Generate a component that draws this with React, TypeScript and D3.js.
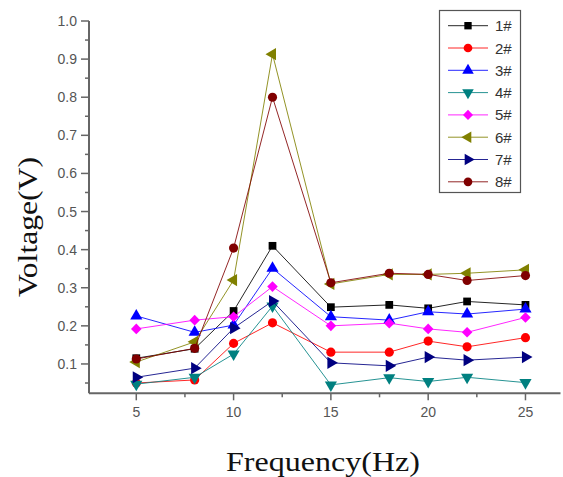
import React from "react";
import * as d3 from "d3";

const freqs = [5, 8, 10, 12, 15, 18, 20, 22, 25];
const seriesNames = ["1#", "2#", "3#", "4#", "5#", "6#", "7#", "8#"];
const s1 = [0.115, 0.14, 0.239, 0.41, 0.249, 0.255, 0.246, 0.264, 0.255];
const s2 = [0.05, 0.058, 0.154, 0.208, 0.131, 0.131, 0.16, 0.145, 0.169];
const s3 = [0.226, 0.183, 0.202, 0.351, 0.224, 0.215, 0.237, 0.231, 0.244];
const s4 = [0.047, 0.065, 0.126, 0.252, 0.045, 0.064, 0.054, 0.065, 0.051];
const s5 = [0.192, 0.215, 0.224, 0.303, 0.2, 0.207, 0.192, 0.183, 0.222];
const s6 = [0.105, 0.158, 0.32, 0.913, 0.31, 0.335, 0.335, 0.338, 0.347];
const s7 = [0.065, 0.089, 0.194, 0.265, 0.103, 0.095, 0.118, 0.11, 0.118];
const s8 = [0.113, 0.141, 0.404, 0.8, 0.313, 0.338, 0.335, 0.319, 0.332];
const seriesValues = [s1, s2, s3, s4, s5, s6, s7, s8];
const colors = ["#000000", "#ff0000", "#0000ff", "#008080", "#ff00ff", "#808000", "#000080", "#800000"];
const markers = ["square", "circle", "up", "down", "diamond", "left", "right", "circle"];
const xTicks = [5, 10, 15, 20, 25];
const xMinor = [7.5, 12.5, 17.5, 22.5];
const yTicks = [0.1, 0.2, 0.3, 0.4, 0.5, 0.6, 0.7, 0.8, 0.9, 1.0];
const yMinor = [0.05, 0.15, 0.25, 0.35, 0.45, 0.55, 0.65, 0.75, 0.85, 0.95];

const x = d3.scaleLinear().domain([2.57, 26.8]).range([89, 560.5]);
const y = d3.scaleLinear().domain([0.023, 1.0]).range([393.3, 21]);

function Marker({ kind, cx, cy, color, scale = 1 }: any) {
  let type: any = d3.symbolSquare;
  let size = 60;
  let rot = 0;
  if (kind === "circle") { type = d3.symbolCircle; size = 66; }
  else if (kind === "diamond") { type = d3.symbolSquare; size = 56; rot = 45; }
  else if (kind === "up") { type = d3.symbolTriangle; size = 64; }
  else if (kind === "down") { type = d3.symbolTriangle; size = 64; rot = 180; }
  else if (kind === "left") { type = d3.symbolTriangle; size = 64; rot = -90; }
  else if (kind === "right") { type = d3.symbolTriangle; size = 64; rot = 90; }
  const path = d3.symbol().type(type).size(size * scale * scale)() as string;
  return <path d={path} fill={color} transform={`translate(${cx},${cy}) rotate(${rot})`} />;
}

export default function App() {
  const line = d3.line<number>().x((_, i) => x(freqs[i])).y((d) => y(d));
  const axisColor = "#666";
  const tickFont = "'Liberation Sans', Arial, sans-serif";
  return (
    <svg width={563} height={477} style={{ position: "absolute", left: 0, top: 0, background: "#fff" }}>
      {/* axes */}
      <line x1={x.range()[0]} x2={x.range()[0]} y1={y.range()[1]} y2={y.range()[0]} stroke={axisColor} strokeWidth={2} />
      <line x1={x.range()[0]} x2={x.range()[1]} y1={y.range()[0]} y2={y.range()[0]} stroke={axisColor} strokeWidth={2} />
      {yTicks.map((t) => (
        <g key={"yt" + t}>
          <line x1={81} x2={89} y1={y(t)} y2={y(t)} stroke={axisColor} strokeWidth={1.5} />
          <text x={77} y={y(t)} textAnchor="end" dominantBaseline="central" fontSize={14} fill="#555" fontFamily={tickFont}>
            {t.toFixed(1)}
          </text>
        </g>
      ))}
      {yMinor.map((t) => (
        <line key={"ym" + t} x1={85} x2={89} y1={y(t)} y2={y(t)} stroke={axisColor} strokeWidth={1.5} />
      ))}
      {xTicks.map((t) => (
        <g key={"xt" + t}>
          <line x1={x(t)} x2={x(t)} y1={y.range()[0]} y2={y.range()[0] + 7} stroke={axisColor} strokeWidth={1.5} />
          <text x={x(t)} y={412} textAnchor="middle" dominantBaseline="central" fontSize={14} fill="#555" fontFamily={tickFont}>
            {t}
          </text>
        </g>
      ))}
      {xMinor.map((t) => (
        <line key={"xm" + t} x1={x(t)} x2={x(t)} y1={y.range()[0]} y2={y.range()[0] + 4} stroke={axisColor} strokeWidth={1.5} />
      ))}
      {/* axis labels */}
      <text x={323} y={471} textAnchor="middle" fontSize={27} fontFamily="'Liberation Serif', 'Times New Roman', serif" fill="#111" textLength={194} lengthAdjust="spacingAndGlyphs">
        Frequency(Hz)
      </text>
      <text transform="translate(37,227) rotate(-90)" textAnchor="middle" fontSize={27} fontFamily="'Liberation Serif', 'Times New Roman', serif" fill="#111" textLength={140} lengthAdjust="spacingAndGlyphs">
        Voltage(V)
      </text>
      {/* series */}
      {seriesValues.map((vals, si) => (
        <g key={"s" + si}>
          <path d={line(vals) as string} fill="none" stroke={colors[si]} strokeWidth={1} strokeOpacity={0.85} />
          {vals.map((v, i) => (
            <Marker key={i} kind={markers[si]} cx={x(freqs[i])} cy={y(v)} color={colors[si]} />
          ))}
        </g>
      ))}
      {/* legend */}
      <rect x={439.5} y={10.5} width={81} height={182} fill="#fff" stroke="#555" strokeWidth={1.2} />
      {seriesNames.map((name, i) => {
        const ry = 25.7 + i * 22.3;
        return (
          <g key={"l" + i}>
            <line x1={448} x2={488} y1={ry} y2={ry} stroke={colors[i]} strokeWidth={1} strokeOpacity={0.85} />
            <Marker kind={markers[i]} cx={468} cy={ry} color={colors[i]} scale={0.95} />
            <text x={495} y={ry} dominantBaseline="central" fontSize={15} fontFamily={tickFont} fill="#333">
              {name}
            </text>
          </g>
        );
      })}
    </svg>
  );
}
